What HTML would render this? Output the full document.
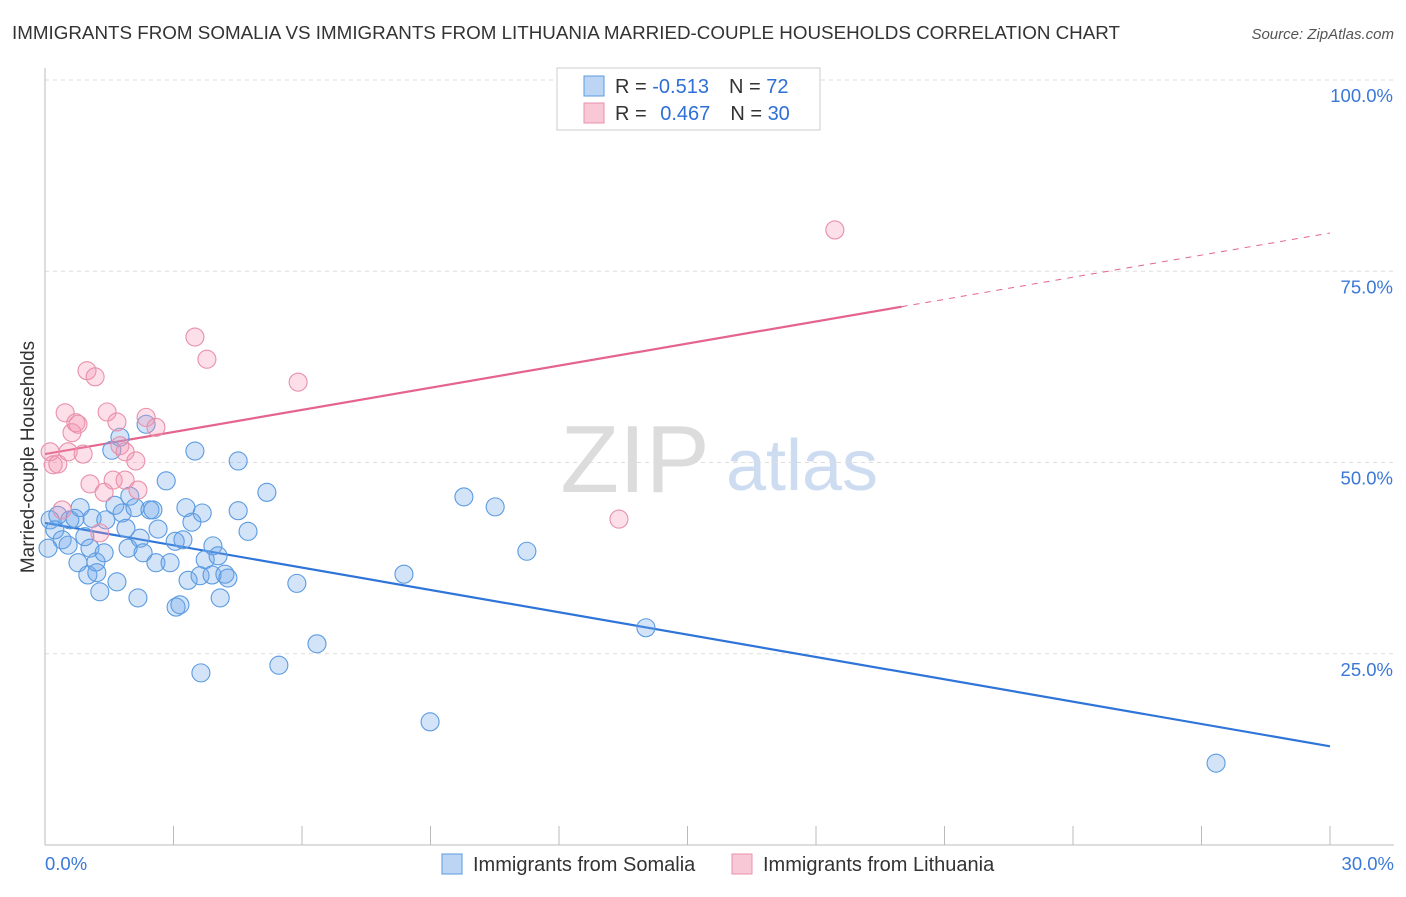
<!DOCTYPE html>
<html><head><meta charset="utf-8"><style>
body{margin:0;background:#fff;font-family:"Liberation Sans",sans-serif;}
svg text{font-family:"Liberation Sans",sans-serif;}
</style></head><body>
<svg id="chart" width="1406" height="892" xmlns="http://www.w3.org/2000/svg">
<text x="12" y="39" font-size="18.5" fill="#333" textLength="1108" lengthAdjust="spacingAndGlyphs">IMMIGRANTS FROM SOMALIA VS IMMIGRANTS FROM LITHUANIA MARRIED-COUPLE HOUSEHOLDS CORRELATION CHART</text>
<text x="1394" y="39" font-size="15" fill="#555" font-style="italic" text-anchor="end">Source: ZipAtlas.com</text>
<text x="635" y="492" font-size="96" fill="#dcdcdc" font-family="Liberation Serif" text-anchor="middle">ZIP</text>
<text x="802" y="490" font-size="72" fill="#cddcf0" text-anchor="middle">atlas</text>
<g id="grid"></g>
<g id="axes"></g>
<text transform="translate(34,457) rotate(-90)" font-size="19" fill="#333" text-anchor="middle">Married-couple Households</text>
<g id="lines"></g>
<g id="points"></g>
<g>
<rect x="557" y="68" width="263" height="62" fill="#fff" stroke="#ccc"/>
<rect x="584" y="76" width="20" height="20" fill="#bcd5f5" stroke="#5b9be0"/>
<rect x="584" y="103" width="20" height="20" fill="#f9c8d6" stroke="#e890aa"/>
<text x="615" y="93" font-size="20" fill="#333">R = <tspan fill="#2f6fd6">-0.513</tspan><tspan dx="20">N = </tspan><tspan fill="#2f6fd6">72</tspan></text>
<text x="615" y="120" font-size="20" fill="#333">R = <tspan fill="#2f6fd6" dx="8">0.467</tspan><tspan dx="20">N = </tspan><tspan fill="#2f6fd6">30</tspan></text>
</g>
<g>
<rect x="442" y="854" width="20" height="20" fill="#bcd5f5" stroke="#5b9be0"/>
<text x="473" y="871" font-size="20" fill="#333">Immigrants from Somalia</text>
<rect x="732" y="854" width="20" height="20" fill="#f9c8d6" stroke="#e890aa"/>
<text x="763" y="871" font-size="20" fill="#333">Immigrants from Lithuania</text>
</g>
</svg>
<script>
const somaliaX=[0.07,0.12,0.23,0.30,0.40,0.54,0.58,0.70,0.82,0.77,0.93,1.00,1.05,1.10,1.19,1.21,1.28,1.38,1.42,1.56,1.63,1.68,1.75,1.80,1.89,1.94,1.98,2.10,2.17,2.22,2.29,2.36,2.45,2.52,2.59,2.64,2.83,2.92,3.04,3.06,3.15,3.22,3.29,3.34,3.43,3.50,3.62,3.64,3.67,3.74,3.90,3.92,4.04,4.09,4.20,4.27,4.51,4.51,4.74,5.18,5.46,5.88,6.35,8.38,8.99,9.78,10.51,11.25,14.03,27.34];
const somaliaY=[38.8,42.5,41.2,43.1,39.9,39.2,42.5,42.7,44.1,36.9,40.3,35.3,38.8,42.7,37.0,35.6,33.1,38.2,42.5,51.6,44.4,34.4,53.3,43.4,41.4,38.8,45.6,44.1,32.3,40.1,38.2,55.0,43.8,43.8,36.9,41.3,47.6,36.9,39.7,31.1,31.4,39.9,44.1,34.6,42.2,51.5,35.2,22.5,43.4,37.3,35.3,39.1,37.8,32.3,35.4,34.9,43.7,50.2,41.0,46.1,23.5,34.2,26.3,35.4,16.1,45.5,44.2,38.4,28.4,10.7];
const lithuaniaX=[0.12,0.19,0.30,0.40,0.47,0.54,0.63,0.72,0.77,0.89,0.98,1.05,1.17,1.28,1.38,1.45,1.59,1.68,1.75,1.87,1.87,2.12,2.17,2.36,2.59,3.50,3.78,5.91,13.40,18.44];
const lithuaniaY=[51.4,49.7,49.8,43.8,56.5,51.4,53.9,55.2,55.0,51.1,62.0,47.2,61.2,40.8,46.1,56.6,47.7,55.3,52.2,51.4,47.7,50.2,46.4,55.9,54.6,66.4,63.5,60.5,42.6,80.4];
const somaliaTrend=[42.1,12.9];
const lithuaniaTrend=[51.1,80.0];
const xTicks=["0.0%","30.0%"];
const yTickVals=[25,50,75,100];
const yTickLabels=["25.0%","50.0%","75.0%","100.0%"];
const NS="http://www.w3.org/2000/svg";
const X=v=>45+v/30*1285;
const Y=v=>845-v/100*765;
function mk(tag,attrs,parent){const e=document.createElementNS(NS,tag);for(const k in attrs)e.setAttribute(k,attrs[k]);document.getElementById(parent).appendChild(e);return e;}
yTickVals.forEach((v,i)=>{
  const g=mk('line',{x1:45,x2:1394,y1:Y(v),y2:Y(v),stroke:'#ddd','stroke-dasharray':'4,4'},'grid');
  
  
  const t=mk('text',{x:1393,y:Y(v)+22,'font-size':18.5,fill:'#3a78d8','text-anchor':'end'},'grid');
  t.textContent=yTickLabels[i];
  
  
});
const ya=mk('line',{x1:45,x2:45,y1:68,y2:845,stroke:'#bbb'},'axes');


const xa=mk('line',{x1:45,x2:1394,y1:845,y2:845,stroke:'#bbb'},'axes');


for(let i=0;i<=10;i++){
  const tk=mk('line',{x1:X(i*3),x2:X(i*3),y1:826,y2:845,stroke:'#bbb'},'axes');
  
  
}
[[0,'start',45],[30,'end',1394]].forEach((d,i)=>{
  const t=mk('text',{x:d[2],y:870,'font-size':18.5,fill:'#3a78d8','text-anchor':d[1]},'axes');
  t.textContent=xTicks[i];
  
  
});
const ty=(tr,x)=>tr[0]+(tr[1]-tr[0])*x/30;
const bl=mk('line',{x1:X(0),y1:Y(ty(somaliaTrend,0)),x2:X(30),y2:Y(ty(somaliaTrend,30)),stroke:'#2f74d8','stroke-width':2.2},'lines');


const pl=mk('line',{x1:X(0),y1:Y(ty(lithuaniaTrend,0)),x2:X(20),y2:Y(ty(lithuaniaTrend,20)),stroke:'#e5648e','stroke-width':2.2},'lines');


const pd=mk('line',{x1:X(20),y1:Y(ty(lithuaniaTrend,20)),x2:X(30),y2:Y(ty(lithuaniaTrend,30)),stroke:'#e5648e','stroke-width':1,'stroke-dasharray':'6,6'},'lines');


somaliaX.forEach((x,i)=>{
  const c=mk('circle',{cx:X(x),cy:Y(somaliaY[i]),r:9,fill:'rgba(110,165,235,0.3)',stroke:'#5b9be0','stroke-width':1.1},'points');
  
  
});
lithuaniaX.forEach((x,i)=>{
  const c=mk('circle',{cx:X(x),cy:Y(lithuaniaY[i]),r:9,fill:'rgba(245,150,180,0.3)',stroke:'#e890aa','stroke-width':1.1},'points');
  
  
});
</script>
</body></html>
